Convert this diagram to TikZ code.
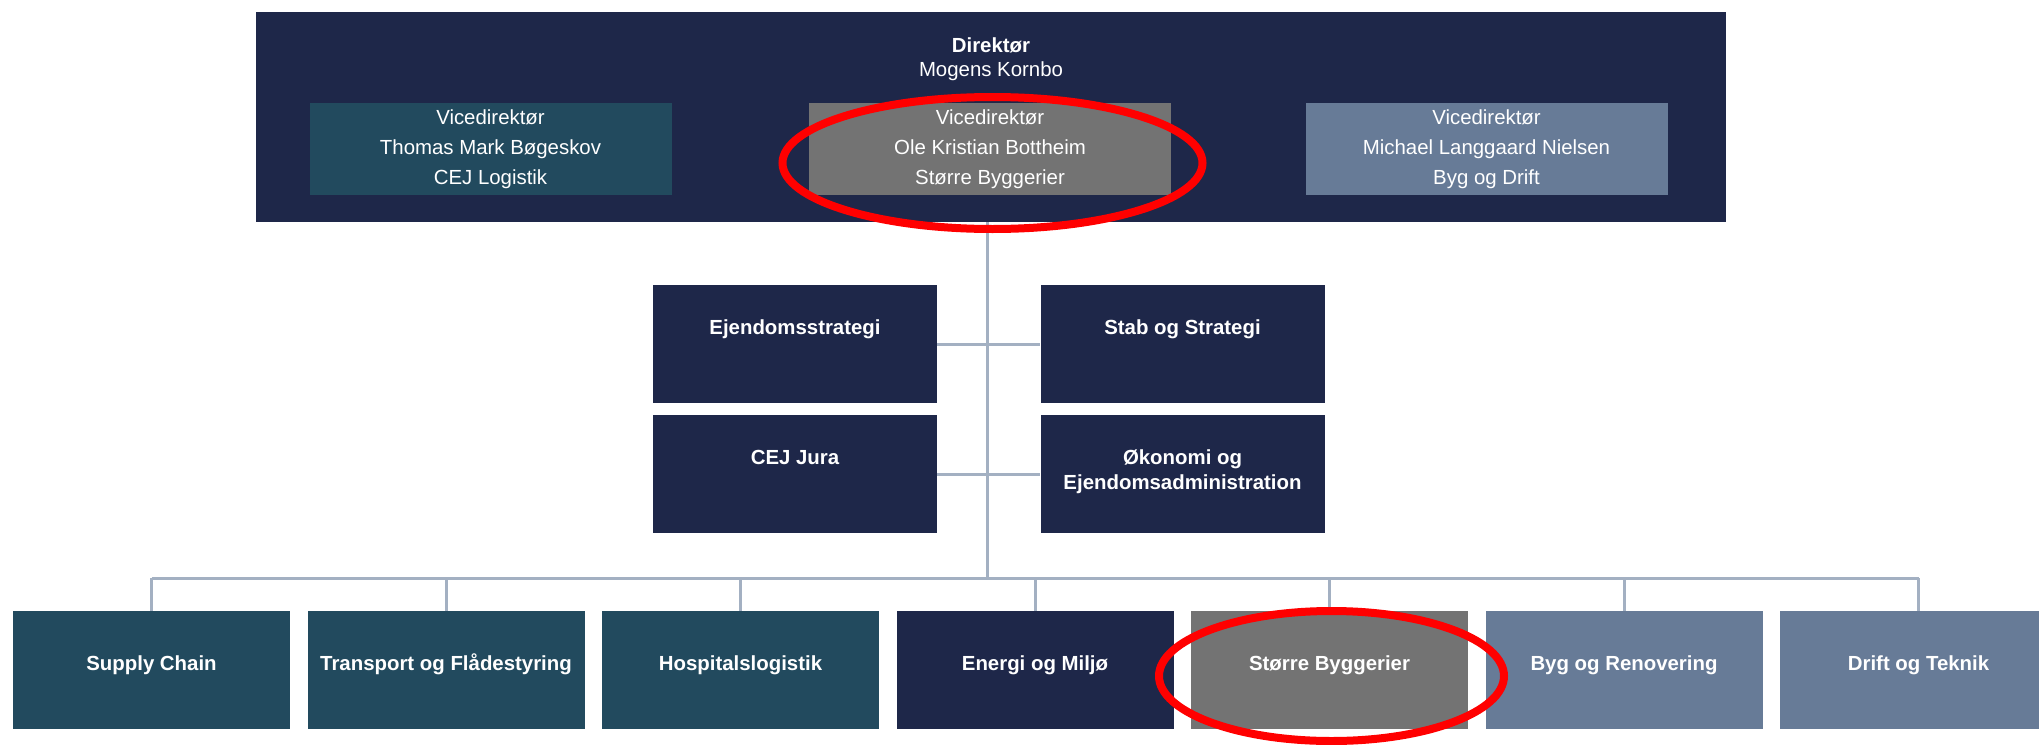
\documentclass[tikz,border=0pt]{standalone}
\usepackage{fontspec}
\setmainfont{Liberation Sans}
\usetikzlibrary{positioning}
\definecolor{navy}{HTML}{1E2749}
\definecolor{petrol}{HTML}{224A5E}
\definecolor{stone}{HTML}{737373}
\definecolor{slate}{HTML}{677B97}
\definecolor{wire}{HTML}{A3B0C2}

\begin{document}
\begin{tikzpicture}[x=0.5pt,y=-0.5pt,
  box/.style={rectangle,inner sep=0pt,text=white,align=center},
  vice node/.style={box,minimum width=181pt,minimum height=46pt,font=\fontsize{10.2}{15}\selectfont},
  mid node/.style={box,fill=navy,minimum width=142pt,minimum height=59pt},
  unit node/.style={box,minimum width=138.5pt,minimum height=59pt,font=\fontsize{10.2}{12.5}\selectfont\bfseries,text height=5pt,text depth=5pt},
  label node/.style={text=white,align=center,inner sep=0pt,font=\fontsize{10.2}{12.5}\selectfont\bfseries},
  link/.style={draw=wire,line width=1.5pt},
  hilite/.style={draw=red,line width=4pt}]

\useasboundingbox (0,0) rectangle (2039,744);

\node[box,fill=navy,minimum width=735pt,minimum height=105pt] (dir) at (991,117) {};
\node[label node,font=\fontsize{10.2}{12}\selectfont] (dirname) at (991,59) {\textbf{Direktør}\\Mogens Kornbo};
\node[vice node,fill=petrol] (vlog) at (490.5,149) {Vicedirektør\\Thomas Mark Bøgeskov\\CEJ Logistik};
\node[vice node,fill=stone] (vbyg) at (990,149) {Vicedirektør\\Ole Kristian Bottheim\\Større Byggerier};
\node[vice node,fill=slate] (vdrift) at (1486.5,149) {Vicedirektør\\Michael Langgaard Nielsen\\Byg og Drift};

\node[mid node] (ejd) at (795,344) {};
\node[label node,below=17.5pt of ejd.north] (ejd-t) {Ejendomsstrategi};
\node[mid node] (stab) at (1182.5,344) {};
\node[label node,below=17.5pt of stab.north] (stab-t) {Stab og Strategi};
\node[mid node] (jura) at (795,474) {};
\node[label node,below=17.5pt of jura.north] (jura-t) {CEJ Jura};
\node[mid node] (okon) at (1182.5,474) {};
\node[label node,below=17.5pt of okon.north] (okon-t) {Økonomi og\\Ejendomsadministration};

\node[unit node,fill=petrol] (sc) at (151.5,670) {Supply Chain};
\node[unit node,fill=petrol] (tf) at (446,670) {Transport og Flådestyring};
\node[unit node,fill=petrol] (hl) at (740.5,670) {Hospitalslogistik};
\node[unit node,fill=navy] (em) at (1035,670) {Energi og Miljø};
\node[unit node,fill=stone] (sb) at (1329.5,670) {Større Byggerier};
\node[unit node,fill=slate] (br) at (1624,670) {Byg og Renovering};
\node[unit node,fill=slate] (dt) at (1918.5,670) {Drift og Teknik};

\coordinate (hub) at (987,578);
\draw[link] (dir.south -| hub) -- (hub);
\draw[link] (ejd.east) -- (stab.west);
\draw[link] (jura.east) -- (okon.west);
\draw[link] (hub -| sc.north) -- (hub -| dt.north);
\foreach \u in {sc,tf,hl,em,sb,br,dt}
  \draw[link] (\u.north) -- (\u.north |- hub);

\draw[hilite] (992.5,163) ellipse [x radius=105pt,y radius=33pt];
\draw[hilite] (1331.5,676) ellipse [x radius=86.25pt,y radius=32.5pt];
\end{tikzpicture}
\end{document}
